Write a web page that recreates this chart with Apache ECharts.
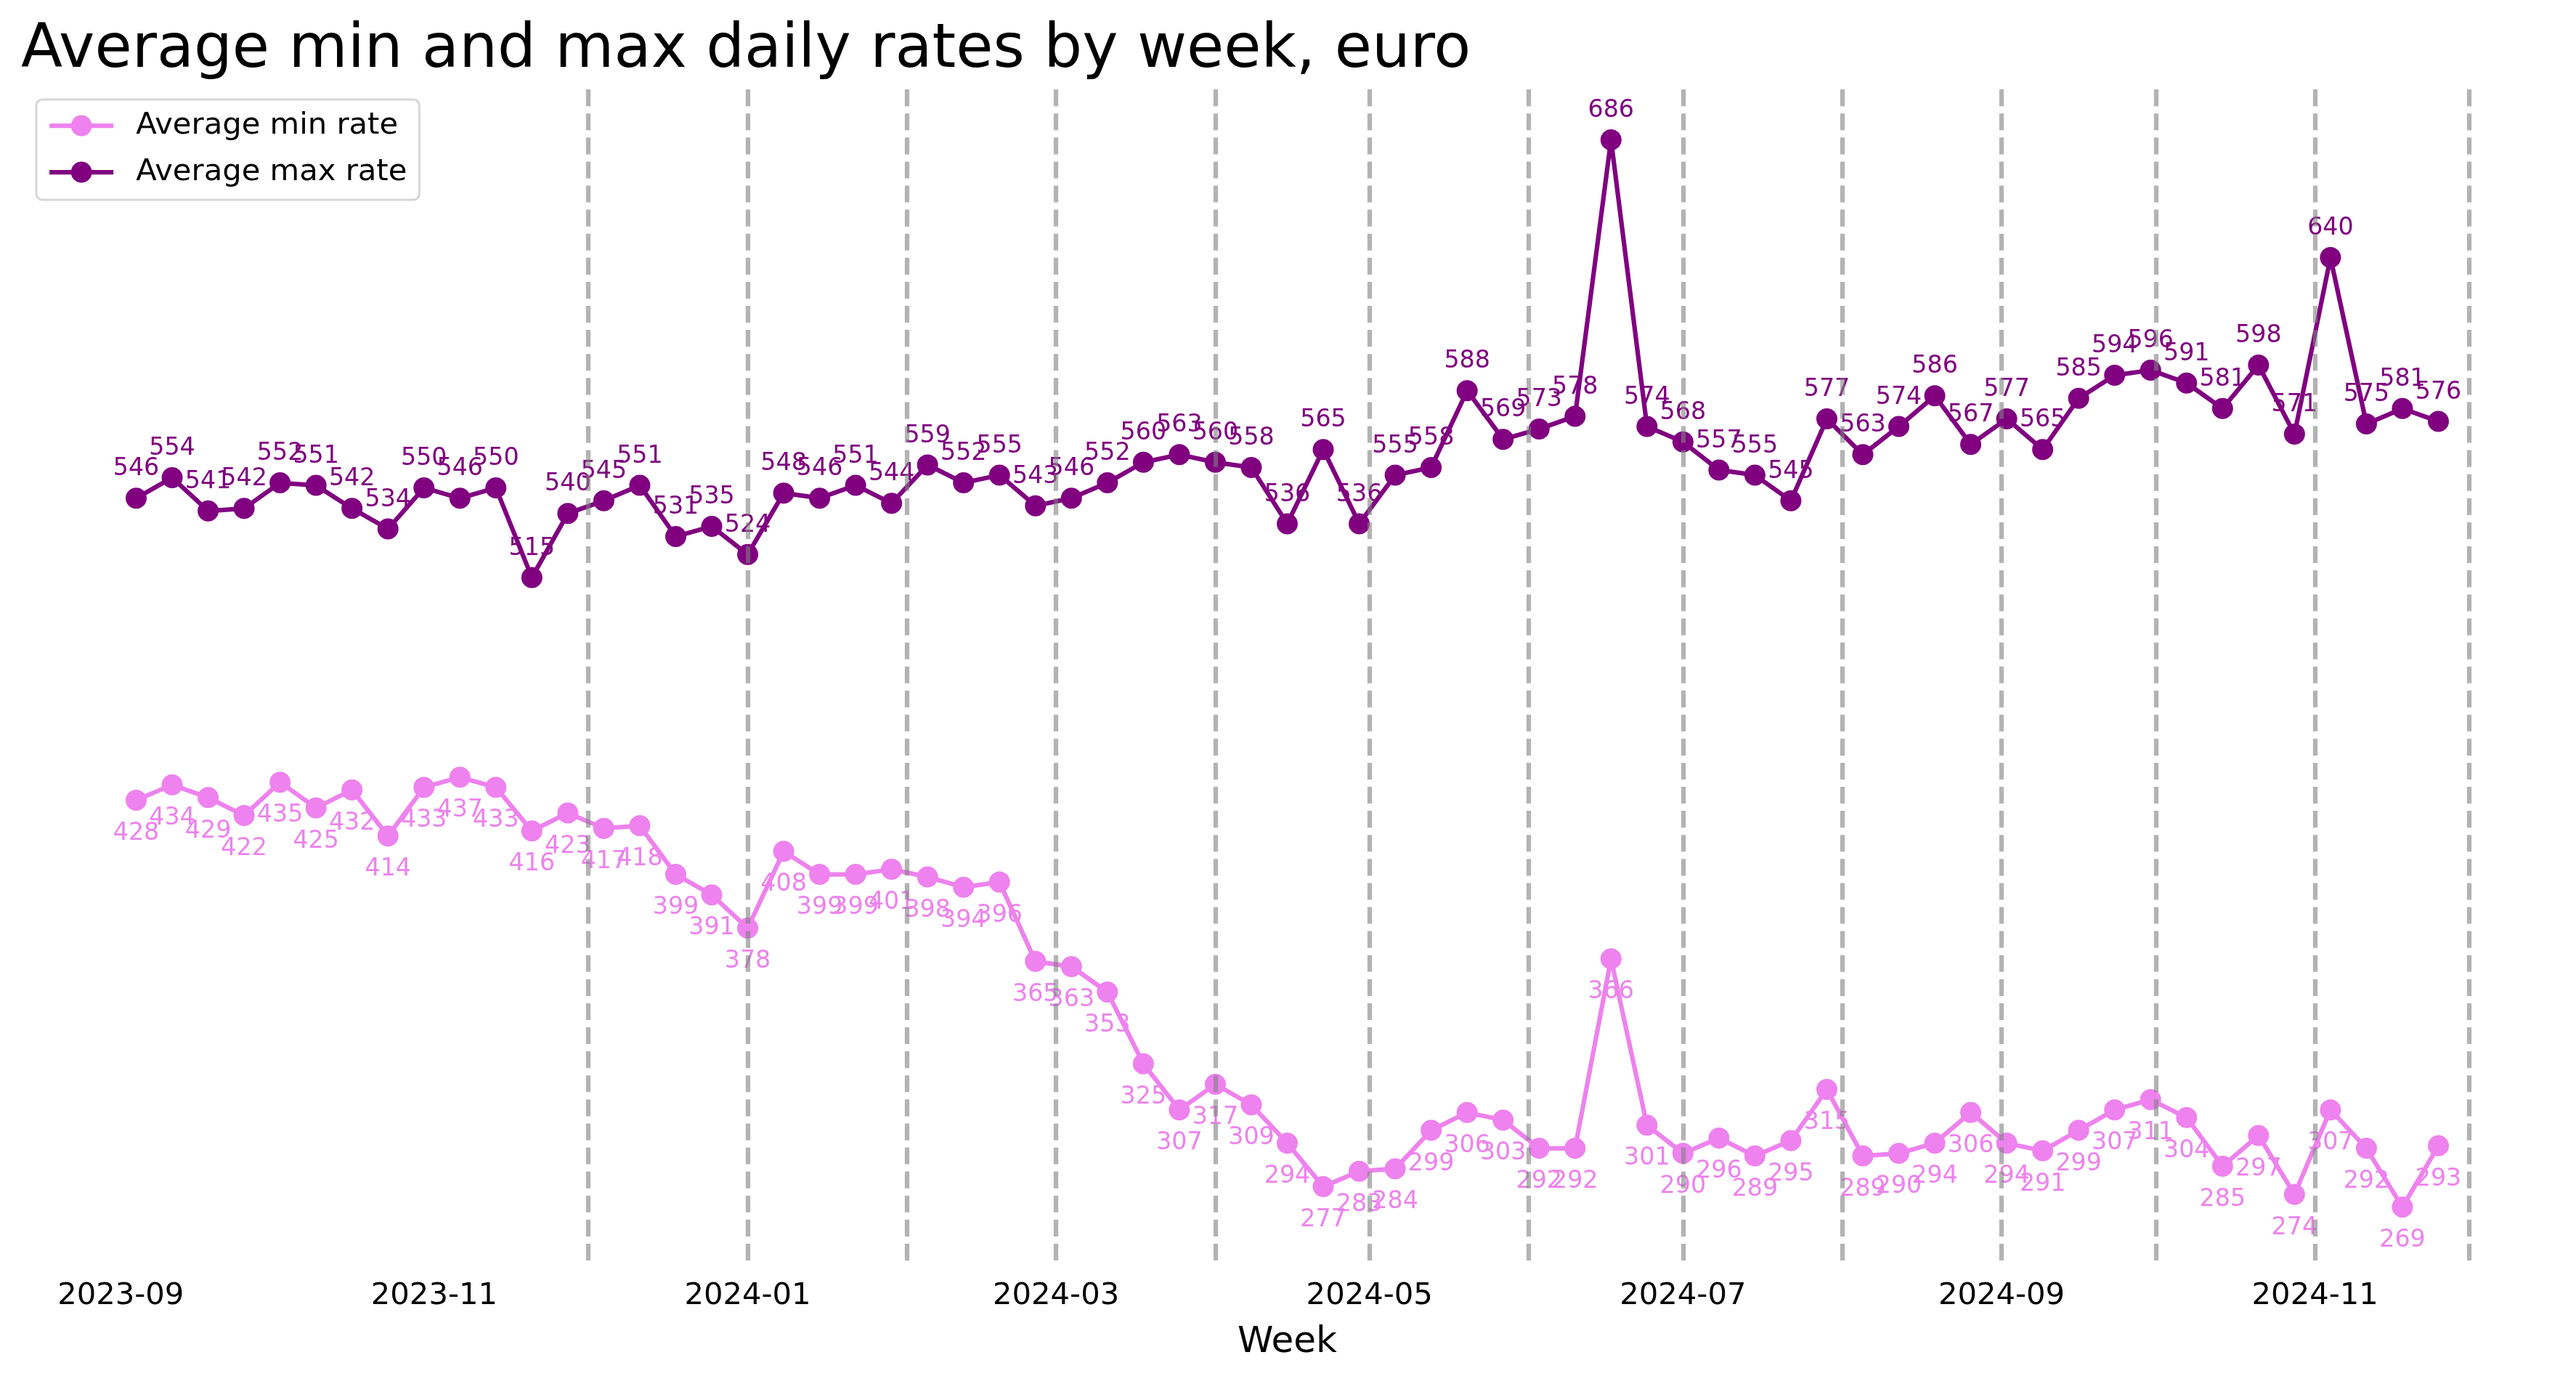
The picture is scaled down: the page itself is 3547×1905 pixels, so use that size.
<!DOCTYPE html>
<html>
<head>
<meta charset="utf-8">
<script src="https://cdn.jsdelivr.net/npm/echarts@6/dist/echarts.min.js"></script>
<style>
html, body { margin: 0; padding: 0; background: #ffffff; }
#chart { width: 3547px; height: 1905px; }
</style>
</head>
<body>
<div id="chart"></div>
<script>
// ---------------- DATA ----------------
const titleText = 'Average min and max daily rates by week, euro';
const xAxisName = 'Week';
const seriesNames = ['Average min rate', 'Average max rate'];

const weeks = [
  '2023-09-04','2023-09-11','2023-09-18','2023-09-25','2023-10-02','2023-10-09','2023-10-16','2023-10-23','2023-10-30',
  '2023-11-06','2023-11-13','2023-11-20','2023-11-27','2023-12-04','2023-12-11','2023-12-18','2023-12-25',
  '2024-01-01','2024-01-08','2024-01-15','2024-01-22','2024-01-29','2024-02-05','2024-02-12','2024-02-19','2024-02-26',
  '2024-03-04','2024-03-11','2024-03-18','2024-03-25','2024-04-01','2024-04-08','2024-04-15','2024-04-22','2024-04-29',
  '2024-05-06','2024-05-13','2024-05-20','2024-05-27','2024-06-03','2024-06-10','2024-06-17','2024-06-24',
  '2024-07-01','2024-07-08','2024-07-15','2024-07-22','2024-07-29','2024-08-05','2024-08-12','2024-08-19','2024-08-26',
  '2024-09-02','2024-09-09','2024-09-16','2024-09-23','2024-09-30','2024-10-07','2024-10-14','2024-10-21','2024-10-28',
  '2024-11-04','2024-11-11','2024-11-18','2024-11-25'
];

const minRate = [
  428, 434, 429, 422, 435, 425, 432, 414, 433, 437, 433, 416, 423, 417, 418, 399, 391,
  378, 408, 399, 399, 401, 398, 394, 396, 365, 363, 353, 325, 307, 317, 309, 294, 277, 283,
  284, 299, 306, 303, 292, 292, 366, 301, 290, 296, 289, 295, 315, 289, 290, 294, 306,
  294, 291, 299, 307, 311, 304, 285, 297, 274, 307, 292, 269, 293
];

const maxRate = [
  546, 554, 541, 542, 552, 551, 542, 534, 550, 546, 550, 515, 540, 545, 551, 531, 535,
  524, 548, 546, 551, 544, 559, 552, 555, 543, 546, 552, 560, 563, 560, 558, 536, 565, 536,
  555, 558, 588, 569, 573, 578, 686, 574, 568, 557, 555, 545, 577, 563, 574, 586, 567,
  577, 565, 585, 594, 596, 591, 581, 598, 571, 640, 575, 581, 576
];

const tickLabels = ['2023-09','2023-11','2024-01','2024-03','2024-05','2024-07','2024-09','2024-11'];

const monthLines = [
  '2023-12-01','2024-01-01','2024-02-01','2024-03-01','2024-04-01','2024-05-01','2024-06-01',
  '2024-07-01','2024-08-01','2024-09-01','2024-10-01','2024-11-01','2024-12-01'
];

// ---------------- STYLE ----------------
const FONT = 'DejaVu Sans';
const colors = ['#EE82EE', '#800080'];

function ts(s) {
  const p = s.split('-').map(Number);
  return Date.UTC(p[0], p[1] - 1, p[2] || 1);
}

const weekTs = weeks.map(ts);
const tickTs = tickLabels.map(ts);

// matplotlib-like 5% margins
const xFirst = Math.min.apply(null, weekTs), xLast = Math.max.apply(null, weekTs);
const xPad = (xLast - xFirst) * 0.05;
const allVals = minRate.concat(maxRate);
const yLo = Math.min.apply(null, allVals), yHi = Math.max.apply(null, allVals);
const yPad = (yHi - yLo) * 0.05;

const chart = echarts.init(document.getElementById('chart'), null, { renderer: 'canvas' });

function makeSeries(name, values, color, pos, dist) {
  return {
    name: name,
    type: 'line',
    data: weekTs.map((t, i) => [t, values[i]]),
    symbol: 'circle',
    symbolSize: 29,
    lineStyle: { color: color, width: 6.25 },
    itemStyle: { color: color },
    z: 3,
    label: {
      show: true,
      position: pos,
      distance: dist,
      color: color,
      fontSize: 33.3,
      fontFamily: FONT,
      formatter: p => String(p.value[1])
    },
    emphasis: { disabled: true }
  };
}

const option = {
  animation: false,
  backgroundColor: '#ffffff',
  title: {
    text: titleText,
    left: 29,
    top: 29,
    padding: 0,
    textStyle: { fontSize: 83.3, fontWeight: 'normal', color: '#000000', fontFamily: FONT }
  },
  legend: {
    data: seriesNames,
    orient: 'vertical',
    left: 50,
    top: 137,
    itemWidth: 88,
    itemHeight: 36,
    itemGap: 22,
    padding: [15, 17, 17, 15],
    backgroundColor: '#ffffff',
    borderColor: '#d6d6d6',
    borderWidth: 3,
    borderRadius: 8,
    lineStyle: { width: 6.25 },
    textStyle: { fontSize: 41.7, fontFamily: FONT, color: '#000000', padding: [0, 0, 0, 26] }
  },
  grid: { left: 29, right: 31, top: 119, bottom: 170, containLabel: false },
  xAxis: {
    type: 'value',
    min: xFirst - xPad,
    max: xLast + xPad,
    name: xAxisName,
    nameLocation: 'middle',
    nameGap: 88,
    nameTextStyle: { fontSize: 50, fontFamily: FONT, color: '#000000' },
    axisLine: { show: false },
    axisTick: { show: false },
    splitLine: { show: false },
    axisLabel: {
      customValues: tickTs,
      formatter: function (v) {
        let best = 0;
        for (let i = 1; i < tickTs.length; i++) {
          if (Math.abs(tickTs[i] - v) < Math.abs(tickTs[best] - v)) best = i;
        }
        return tickLabels[best];
      },
      fontSize: 41.7,
      fontFamily: FONT,
      color: '#000000',
      margin: 28,
      hideOverlap: false
    }
  },
  yAxis: {
    type: 'value',
    min: yLo - yPad,
    max: yHi + yPad,
    show: false,
    splitLine: { show: false }
  },
  series: [
    makeSeries(seriesNames[0], minRate, colors[0], 'bottom', 15),
    makeSeries(seriesNames[1], maxRate, colors[1], 'top', 9),
    {
      name: 'monthLines',
      type: 'line',
      data: [],
      z: 10,
      silent: true,
      markLine: {
        silent: true,
        symbol: ['none', 'none'],
        label: { show: false },
        lineStyle: { type: [23.1, 10], width: 6.25, color: 'rgba(128,128,128,0.6)' },
        emphasis: { disabled: true },
        data: monthLines.map(d => ({ xAxis: ts(d) }))
      }
    }
  ]
};

chart.setOption(option);
</script>
</body>
</html>
